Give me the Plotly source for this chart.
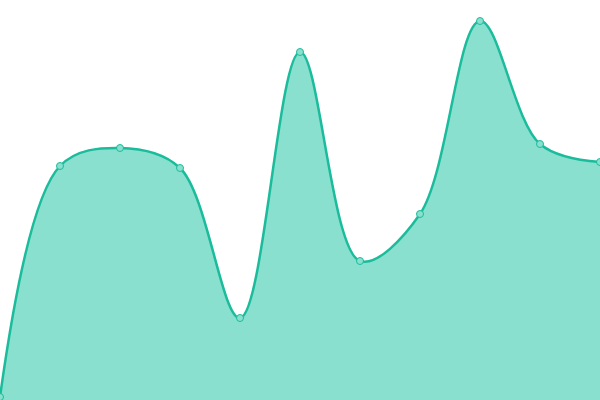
import plotly.graph_objects as go

# point index along x, and value (0..400 scale)
x_idx = [0, 1, 2, 3, 4, 5, 6, 7, 8, 9, 10]
values = [3, 234, 252, 232, 82, 348, 139, 186, 379, 256, 238]

line_color = "#1abc9c"
fill_color = "#8ae0cf"

fig = go.Figure()

fig.add_trace(go.Scatter(
    x=x_idx,
    y=values,
    mode="lines+markers",
    line=dict(color=line_color, width=2.5, shape="spline", smoothing=1),
    fill="tozeroy",
    fillcolor=fill_color,
    marker=dict(size=7, color=fill_color, line=dict(color=line_color, width=1)),
    hoverinfo="skip",
    cliponaxis=False,
))

fig.update_layout(
    width=600,
    height=400,
    margin=dict(l=0, r=0, t=0, b=0),
    plot_bgcolor="white",
    paper_bgcolor="white",
    showlegend=False,
    xaxis=dict(range=[0, 10], visible=False, fixedrange=True),
    yaxis=dict(range=[0, 400], visible=False, fixedrange=True),
)

# drop the page's default body margin so the chart sits at 0,0
fig.write_html("out.html", config={"displayModeBar": False},
               post_script="document.body.style.margin='0';")
